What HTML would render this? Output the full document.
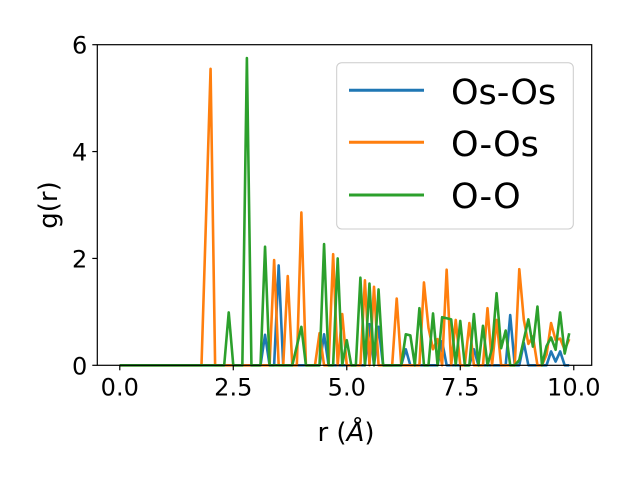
<!DOCTYPE html>
<html><head><meta charset="utf-8"><style>
html,body{margin:0;padding:0;background:#fff;}
svg{display:block;font-family:"DejaVu Sans","Liberation Sans",sans-serif;}
</style></head><body>
<svg id="chart" width="640" height="480" viewBox="0 0 640 480">
<rect x="0" y="0" width="640" height="480" fill="#fff"/>
<g id="series"></g>
<g id="axes"></g>
<text x="346" y="441" text-anchor="middle" font-size="26">r (<tspan font-style="italic">Å</tspan>)</text>
<text transform="translate(57,205) rotate(-90)" text-anchor="middle" font-size="26">g(r)</text>
<g>
<rect x="336.7" y="62.7" width="236.6" height="166.3" rx="5" fill="#fff" fill-opacity="0.8" stroke="#cccccc" stroke-width="1"/>
<line x1="349" y1="90.3" x2="424" y2="90.3" stroke="#1f77b4" stroke-width="3"/>
<text x="451" y="104" font-size="35">Os-Os</text>
<line x1="349" y1="142.3" x2="424" y2="142.3" stroke="#ff7f0e" stroke-width="3"/>
<text x="451" y="156" font-size="35">O-Os</text>
<line x1="349" y1="195" x2="424" y2="195" stroke="#2ca02c" stroke-width="3"/>
<text x="451" y="208" font-size="35">O-O</text>
</g>
</svg>
<script>
const xTicks = [0, 2.5, 5, 7.5, 10];
const xTickLabels = ["0.0", "2.5", "5.0", "7.5", "10.0"];
const yTicks = [0, 2, 4, 6];
const yTickLabels = ["0", "2", "4", "6"];
const seriesNames = ["Os-Os", "O-Os", "O-O"];
const osOsPoints = {32:0.57,35:1.87,45:0.58,55:0.77,57:0.72,63:0.3,71:0.45,78:0.3,86:0.94,89:0.42,95:0.26,96:0.07,97:0.26};
const oOsPoints = {19:2.75,20:5.55,34:1.97,37:1.67,40:2.86,44:0.6,47:2.08,49:0.96,54:1.59,56:1.47,61:1.25,67:1.55,68:0.7,69:0.3,70:0.49,72:1.79,74:0.85,77:0.79,81:1.07,83:0.85,88:1.8,89:0.85,90:0.4,91:0.54,94:0.2,95:0.79,96:0.47,97:0.5,98:0.29,99:0.49};
const oOPoints = {24:0.99,28:5.75,32:2.22,39:0.36,40:0.72,45:2.27,48:2.0,50:0.47,53:1.64,55:1.53,57:1.42,63:0.58,64:0.56,66:1.07,69:0.97,71:0.9,72:0.88,73:0.86,75:0.83,78:0.96,80:0.74,82:0.32,83:1.35,84:0.32,85:0.65,88:0.1,89:0.48,90:0.86,91:0.35,92:1.1,94:0.36,95:0.52,96:0.29,97:0.99,98:0.22,99:0.6};
const rValues = Array.from({length:100}, (_, i) => +(i*0.1).toFixed(1));

const NS = "http://www.w3.org/2000/svg";
const X0 = 97.3, X1 = 591.7, Y0 = 365.3, Y1 = 44.7;
const xMin = -0.495, xMax = 10.395, yMin = 0, yMax = 6;
function xs(v){ return X0 + (v - xMin) / (xMax - xMin) * (X1 - X0); }
function ys(v){ return Y0 - (v - yMin) / (yMax - yMin) * (Y0 - Y1); }
function mk(tag, attrs){ const e = document.createElementNS(NS, tag); for (const k in attrs) e.setAttribute(k, attrs[k]); return e; }

const sg = document.getElementById('series');
const colors = ["#1f77b4", "#ff7f0e", "#2ca02c"];
const dataSets = [osOsPoints, oOsPoints, oOPoints];
const sNames = ["line-os-os", "line-o-os", "line-o-o"];
dataSets.forEach((d, k) => {
  const pts = rValues.map((r, i) => xs(r).toFixed(2) + "," + ys(d[i] || 0).toFixed(2)).join(" ");
  const pl = mk('polyline', {points: pts, fill: "none", stroke: colors[k], "stroke-width": 2.6, "stroke-linejoin": "round"});
  
  
  sg.appendChild(pl);
});

const ax = document.getElementById('axes');
const frame = mk('rect', {x: X0, y: Y1, width: X1 - X0, height: Y0 - Y1, fill: "none", stroke: "#000", "stroke-width": 1.2});


ax.appendChild(frame);
xTicks.forEach((t, i) => {
  const x = xs(t);
  const tk = mk('line', {x1: x, y1: Y0, x2: x, y2: Y0 + 5, stroke: "#000", "stroke-width": 1.2});
  
  
  ax.appendChild(tk);
  const lb = mk('text', {x: x, y: Y0 + 30, "text-anchor": "middle", "font-size": 24});
  lb.textContent = xTickLabels[i];
  
  
  ax.appendChild(lb);
});
yTicks.forEach((t, i) => {
  const y = ys(t);
  const tk = mk('line', {x1: X0 - 5, y1: y, x2: X0, y2: y, stroke: "#000", "stroke-width": 1.2});
  
  
  ax.appendChild(tk);
  const lb = mk('text', {x: X0 - 10, y: y + 9, "text-anchor": "end", "font-size": 24});
  lb.textContent = yTickLabels[i];
  
  
  ax.appendChild(lb);
});
</script>
</body></html>
